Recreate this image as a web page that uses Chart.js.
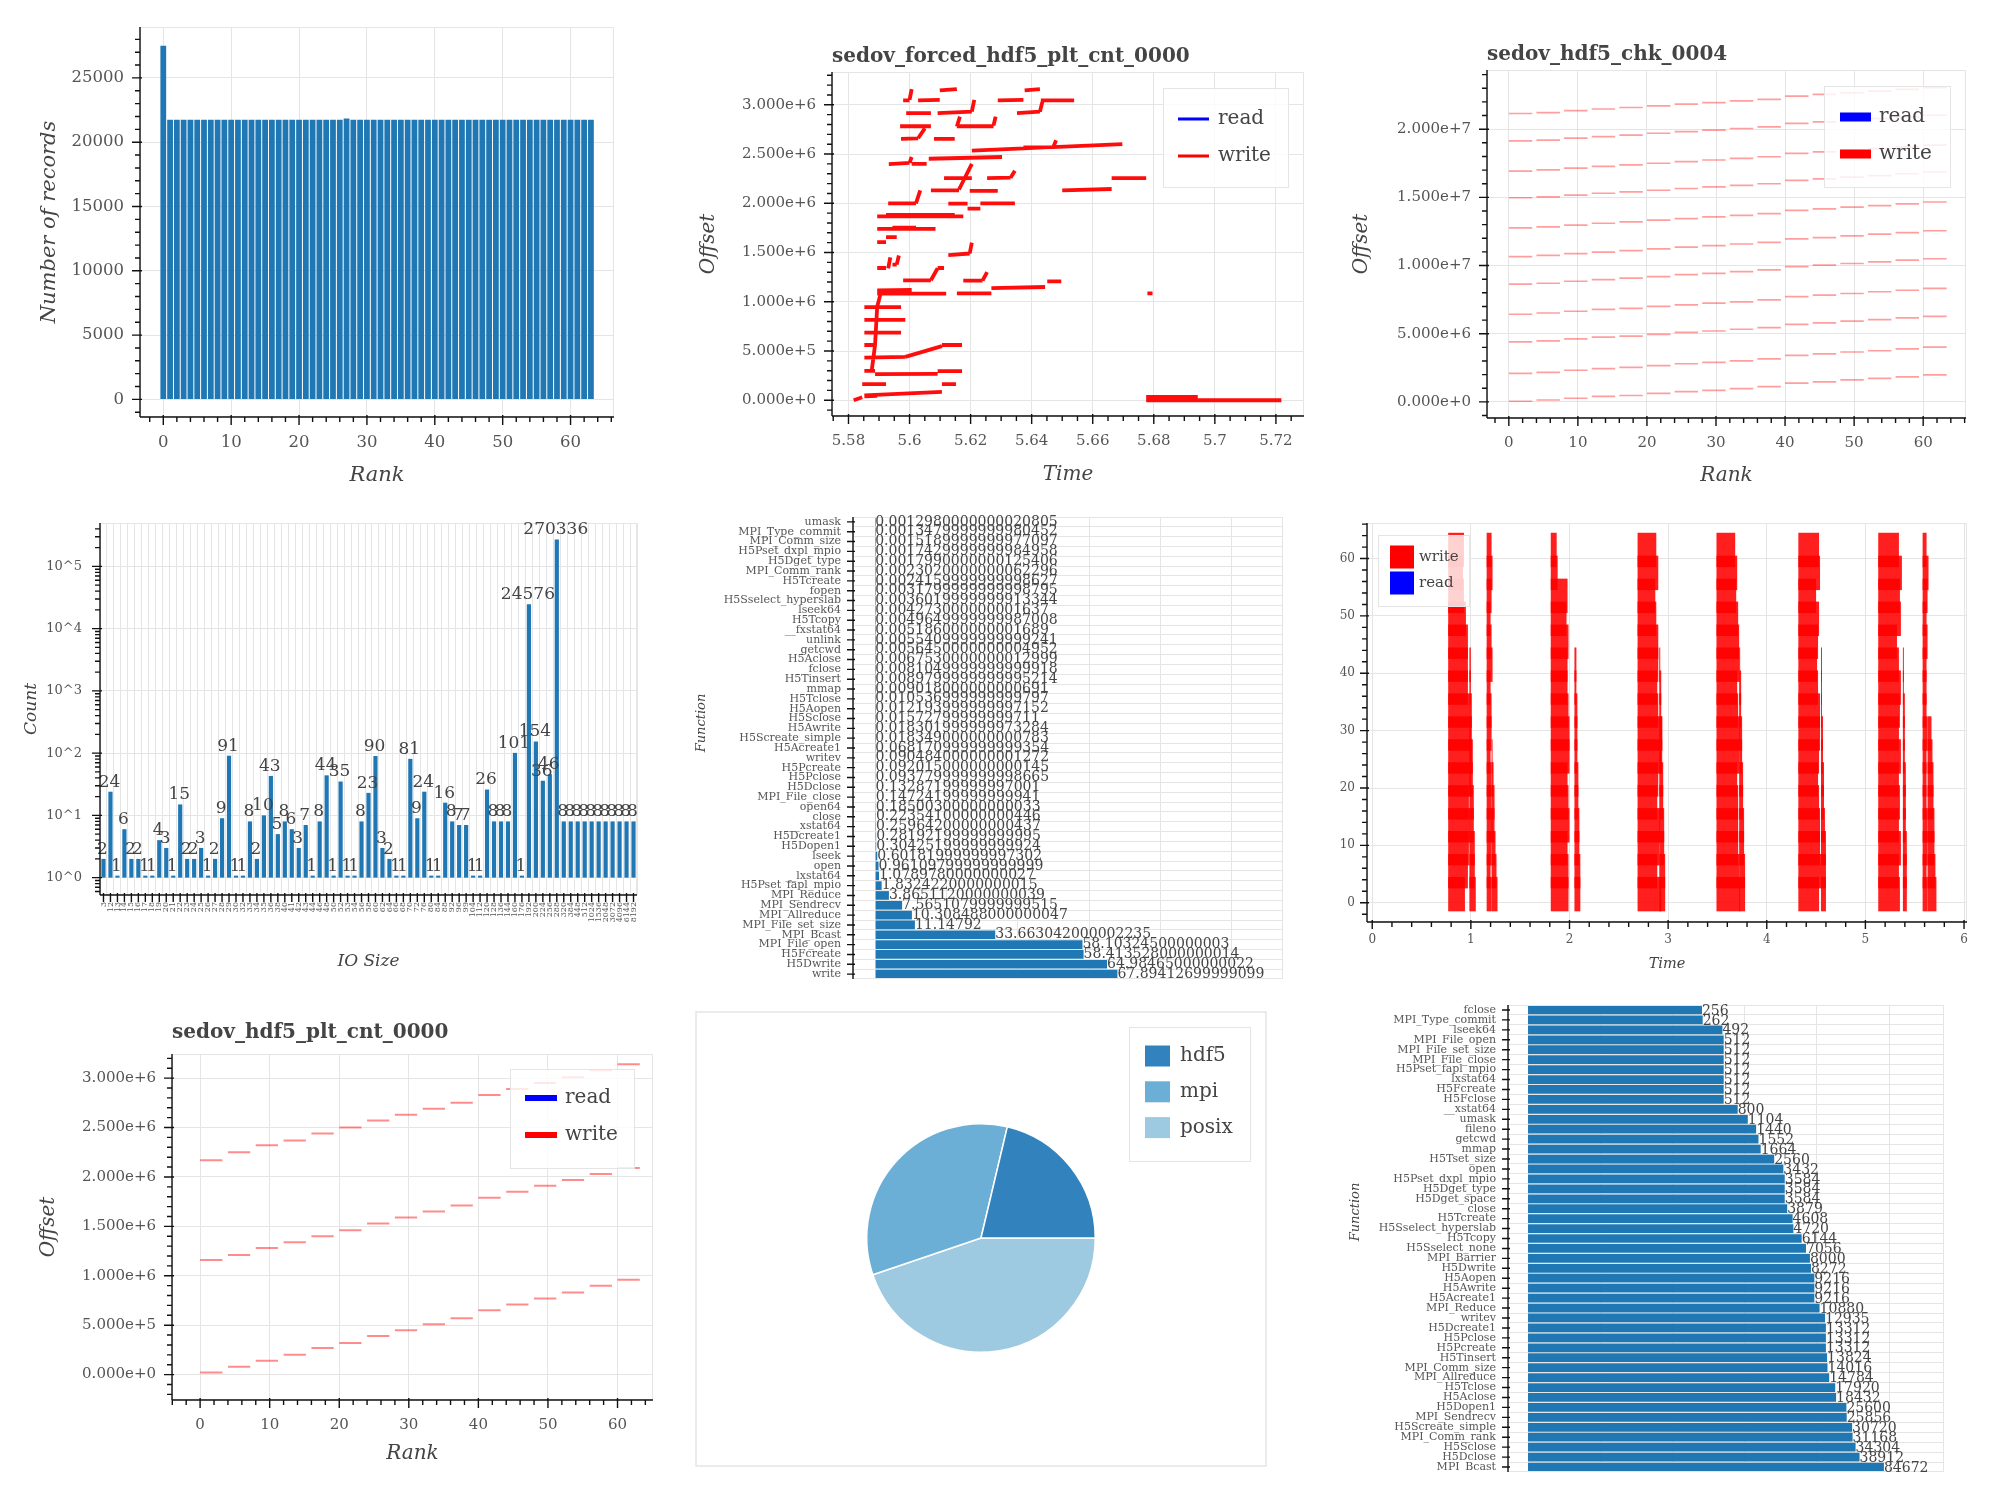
<!DOCTYPE html>
<html>
<head>
<meta charset="utf-8">
<script src="https://cdn.jsdelivr.net/npm/chart.js@4.4.0/dist/chart.umd.min.js"></script>
<style>
  body { margin: 0; background: #fff; width: 2000px; height: 1496px; position: relative; overflow: hidden; }
  canvas { position: absolute; }
</style>
</head>
<body>
<canvas id="c1" width="660" height="500" style="left:0px;top:0px"></canvas>
<canvas id="c2" width="680" height="500" style="left:660px;top:0px"></canvas>
<canvas id="c3" width="660" height="500" style="left:1340px;top:0px"></canvas>
<canvas id="c4" width="660" height="500" style="left:0px;top:500px"></canvas>
<canvas id="c5" width="640" height="479" style="left:680px;top:500px"></canvas>
<canvas id="c6" width="680" height="500" style="left:1320px;top:500px"></canvas>
<canvas id="c7" width="680" height="496" style="left:0px;top:1000px"></canvas>
<canvas id="c8" width="572" height="456" style="left:695px;top:1011px"></canvas>
<canvas id="c9" width="660" height="482" style="left:1340px;top:990px"></canvas>
<script>
// ---------- data ----------

// records per rank
const ranks = [0,1,2,3,4,5,6,7,8,9,10,11,12,13,14,15,16,17,18,19,20,21,22,23,24,25,26,27,28,29,30,31,
  32,33,34,35,36,37,38,39,40,41,42,43,44,45,46,47,48,49,50,51,52,53,54,55,56,57,58,59,60,61,62,63]
const recordsPerRank = [27500,21750,21750,21750,21750,21750,21750,21750,21750,21750,21750,21750,21750,21750,21750,21750,
  21750,21750,21750,21750,21750,21750,21750,21750,21750,21750,21750,21850,21750,21750,21750,21750,
  21750,21750,21750,21750,21750,21750,21750,21750,21750,21750,21750,21750,21750,21750,21750,21750,
  21750,21750,21750,21750,21750,21750,21750,21750,21750,21750,21750,21750,21750,21750,21750,21750]
const rankTicks = [0, 10, 20, 30, 40, 50, 60]
const recordTicks = [0, 5000, 10000, 15000, 20000, 25000]

// sedov_forced_hdf5_plt_cnt_0000 : write segments [t0, offset0, t1, offset1], offsets in millions
const seriesNames = ['read', 'write']
const forcedWrite = [
  [5.5817,0.00,5.5845,0.03],[5.5852,0.05,5.6106,0.085],[5.5852,0.04,5.5894,0.045],
  [5.5845,0.163,5.5923,0.163],[5.6106,0.163,5.6152,0.163],[5.5852,0.299,5.5887,0.299],
  [5.5887,0.265,5.6092,0.268],[5.6092,0.296,5.6172,0.296],[5.5852,0.432,5.5986,0.44],
  [5.5986,0.44,5.6106,0.55],[5.6106,0.561,5.6172,0.561],[5.5852,0.561,5.5887,0.561],
  [5.5852,0.687,5.5972,0.687],[5.5852,0.816,5.5986,0.816],[5.5852,0.945,5.5972,0.945],
  [5.5876,0.30,5.5887,0.56],[5.5887,0.56,5.5894,0.95],[5.5894,0.95,5.5905,1.08],
  [5.5894,1.082,5.6120,1.082],[5.5894,1.116,5.6007,1.12],[5.6155,1.085,5.6268,1.085],
  [5.6268,1.139,5.6444,1.15],[5.6451,1.207,5.6497,1.207],[5.5979,1.218,5.6070,1.218],
  [5.6070,1.218,5.6092,1.34],[5.6092,1.343,5.6113,1.343],[5.6176,1.214,5.6239,1.214],
  [5.6239,1.214,5.6254,1.30],[5.6779,1.085,5.6796,1.085],[5.5894,1.343,5.5923,1.343],
  [5.5944,1.377,5.5958,1.377],[5.5930,1.34,5.5937,1.45],[5.5958,1.377,5.5965,1.47],
  [5.6127,1.473,5.6197,1.49],[5.6197,1.49,5.6204,1.60],[5.5894,1.605,5.5923,1.605],
  [5.5923,1.656,5.5958,1.656],[5.5894,1.741,5.6085,1.741],[5.5944,1.752,5.6021,1.752],
  [5.5894,1.867,5.6176,1.867],[5.5923,1.881,5.6148,1.881],[5.5930,2.00,5.6021,2.00],
  [5.6021,2.00,5.6035,2.13],[5.6127,1.996,5.6190,1.996],[5.6190,1.945,5.6232,1.945],
  [5.6232,2.00,5.6345,2.00],[5.6070,2.132,5.6162,2.132],[5.6162,2.14,5.6204,2.40],
  [5.6113,2.255,5.6204,2.255],[5.6197,2.126,5.6289,2.126],[5.6254,2.255,5.6331,2.26],
  [5.6331,2.26,5.6345,2.33],[5.6500,2.132,5.6662,2.145],[5.6662,2.255,5.6775,2.255],
  [5.5932,2.398,5.6000,2.41],[5.6000,2.41,5.6007,2.47],[5.6007,2.40,5.6056,2.40],
  [5.6063,2.452,5.6303,2.47],[5.6204,2.534,5.6697,2.60],[5.6373,2.568,5.6472,2.57],
  [5.6472,2.58,5.6480,2.64],[5.5972,2.653,5.6028,2.66],[5.6028,2.66,5.6050,2.76],
  [5.6080,2.653,5.6148,2.653],[5.5969,2.782,5.6070,2.782],[5.6155,2.782,5.6275,2.782],
  [5.6275,2.79,5.6282,2.88],[5.5989,2.915,5.6070,2.915],[5.6092,2.915,5.6204,2.93],
  [5.6204,2.93,5.6212,3.05],[5.6155,2.78,5.6165,2.88],[5.5979,3.044,5.6000,3.044],
  [5.6000,3.05,5.6007,3.16],[5.6028,3.044,5.6099,3.05],[5.6099,3.146,5.6155,3.16],
  [5.6289,3.044,5.6373,3.05],[5.6377,3.146,5.6427,3.16],[5.6430,3.044,5.6539,3.044],
  [5.6352,2.915,5.6427,2.93],[5.6427,2.93,5.6435,3.03],[5.6775,0.00,5.6944,0.00],
  [5.6775,0.012,5.6944,0.012],[5.6775,0.024,5.6944,0.024],[5.6775,0.034,5.6944,0.034],
  [5.6944,0.00,5.7218,0.00]
]
const forcedTimeTicks = [5.58, 5.6, 5.62, 5.64, 5.66, 5.68, 5.7, 5.72]
const pltOffsetTicks = [0, 5e5, 1e6, 1.5e6, 2e6, 2.5e6, 3e6]

// sedov_hdf5_chk_0004 : write offsets (millions) per band, at these start ranks
const dashRanks = [0, 4, 8, 12, 16, 20, 24, 28, 32, 36, 40, 44, 48, 52, 56, 60]
const chkBands = [
  [0.05,0.14,0.27,0.41,0.47,0.62,0.75,0.84,0.98,1.12,1.38,1.47,1.61,1.72,1.84,1.98],
  [2.09,2.17,2.32,2.44,2.53,2.66,2.80,2.90,3.01,3.16,3.41,3.52,3.66,3.75,3.89,4.02],
  [4.40,4.47,4.62,4.75,4.83,4.95,5.10,5.20,5.33,5.45,5.68,5.80,5.93,6.03,6.16,6.27],
  [6.43,6.52,6.65,6.79,6.86,7.00,7.12,7.24,7.34,7.48,7.72,7.83,7.95,8.08,8.19,8.32],
  [8.64,8.70,8.85,8.97,9.08,9.19,9.33,9.43,9.56,9.68,9.92,10.03,10.15,10.27,10.40,10.50],
  [10.65,10.74,10.87,10.99,11.10,11.22,11.35,11.46,11.58,11.70,11.95,12.05,12.18,12.30,12.42,12.55],
  [12.76,12.83,12.97,13.10,13.20,13.33,13.44,13.57,13.68,13.81,14.04,14.16,14.28,14.40,14.52,14.66],
  [14.97,15.03,15.17,15.30,15.40,15.52,15.65,15.77,15.88,16.00,16.24,16.36,16.48,16.60,16.73,16.86],
  [16.93,17.02,17.15,17.27,17.38,17.50,17.62,17.74,17.86,17.98,18.22,18.33,18.46,18.58,18.70,18.83],
  [19.14,19.20,19.34,19.46,19.57,19.70,19.82,19.93,20.05,20.17,20.42,20.53,20.66,20.77,20.90,21.02],
  [21.15,21.22,21.36,21.48,21.59,21.71,21.84,21.95,22.07,22.19,22.43,22.55,22.67,22.79,22.92,23.05]
]
const chkOffsetTicks = [0, 5e6, 1e7, 1.5e7, 2e7]

// IO size histogram
const ioSizes = ['3','12','13','14','15','16','17','18','19','20','21','22','23','24','25','26','27','28','29',
  '30','32','33','34','35','36','38','40','41','42','43','44','46','48','50','52','53','54','56','58',
  '60','62','64','66','68','70','72','76','80','84','88','92','96','99',
  '104','112','120','128','136','144','160','176','192','200','224','256','288','320','384','448','512',
  '1024','1536','2048','3072','4096','6144','8192']
const ioCounts = [2,24,1,6,2,2,1,1,4,3,1,15,2,2,3,1,2,9,91,1,1,8,2,10,43,5,8,6,3,7,1,8,44,1,35,1,1,8,23,90,
  3,2,1,1,81,9,24,1,1,16,8,7,7,1,1,26,8,8,8,101,1,24576,154,36,46,270336,8,8,8,8,8,8,8,8,8,8,8]
const countTicks = [1, 10, 100, 1000, 10000, 100000]

// time per function
const timeFunctions = ['umask','MPI_Type_commit','MPI_Comm_size','H5Pset_dxpl_mpio','H5Dget_type','MPI_Comm_rank',
  'H5Tcreate','fopen','H5Sselect_hyperslab','lseek64','H5Tcopy','__fxstat64','unlink','getcwd','H5Aclose','fclose',
  'H5Tinsert','mmap','H5Tclose','H5Aopen','H5Sclose','H5Awrite','H5Screate_simple','H5Acreate1','writev','H5Pcreate',
  'H5Pclose','H5Dclose','MPI_File_close','open64','close','__xstat64','H5Dcreate1','H5Dopen1','lseek','open',
  '__lxstat64','H5Pset_fapl_mpio','MPI_Reduce','MPI_Sendrecv','MPI_Allreduce','MPI_File_set_size','MPI_Bcast',
  'MPI_File_open','H5Fcreate','H5Dwrite','write']
const timeValues = ['0.0012980000000020805','0.0013479999999980452','0.0015189999999977097','0.0017429999999984958',
  '0.0017990000000125406','0.0023020000000062296','0.0024159999999998627','0.0031799999999998795',
  '0.0036019999999913344','0.004273000000001637','0.0049649999999987008','0.005186000000001689',
  '0.0055409999999999241','0.0056450000000004952','0.0067530000000012999','0.0081049999999999918',
  '0.0089799999999995214','0.009018000000000691','0.010536999999999797','0.012193999999997152',
  '0.01572799999999711','0.018301999999973284','0.018349000000000783','0.068170999999999354',
  '0.090484000000001272','0.092015000000000145','0.093779999999998665','0.13287199999997001',
  '0.14724199999999941','0.18500300000000033','0.22354100000000446','0.25964200000000437',
  '0.28192199999999995','0.30425199999999924','0.60181999999997302','0.96109799999999999',
  '1.0789780000000027','1.8324220000000015','3.8651120000000039','7.5651079999999515',
  '10.308488000000047','11.14792','33.663042000002235','58.10324500000003','58.413528000000014',
  '64.98465000000022','67.89412699999099']
const timeGrid = [0, 20, 40, 60, 80, 100]

// timeline: rank groups, phase start times and per-group end times
const tlGroups = [1.5,5.5,9.5,13.5,17.5,21.5,25.5,29.5,33.5,37.5,41.5,45.5,49.5,53.5,57.5,61.5]
const tlStarts = [0.77,0.985,1.16,1.21,1.81,2.05,2.69,2.91,3.49,3.72,4.32,4.55,5.13,5.38,5.58,5.63]
const tlEnds = [
  [0.94,0.97,0.98,0.99,0.98,1.00,1.01,1.00,0.99,0.97,0.97,0.97,0.95,0.93,0.92,0.93],
  [1.05,1.04,1.04,1.03,1.03,1.02,1.02,1.01,1.01,1.00,1.00,null,null,null,null,null],
  [1.21,1.20,1.21,1.22,1.21,1.21,1.20,1.21,1.21,1.20,1.22,1.21,1.20,1.21,1.22,1.21],
  [1.27,1.26,1.25,1.24,1.24,1.23,1.22,null,null,null,null,null,null,null,null,null],
  [1.99,1.99,1.98,2.00,1.99,1.98,2.00,2.00,1.99,1.98,1.98,1.99,1.97,1.98,1.88,1.87],
  [2.11,2.11,2.10,2.10,2.09,2.09,2.08,2.08,2.08,2.07,2.07,null,null,null,null,null],
  [2.93,2.89,2.91,2.92,2.89,2.90,2.93,2.94,2.90,2.89,2.90,2.90,2.88,2.87,2.90,2.88],
  [2.97,2.97,2.96,2.96,2.95,2.95,2.94,2.94,2.93,2.93,2.92,null,null,null,null,null],
  [3.73,3.72,3.71,3.71,3.71,3.70,3.72,3.73,3.71,3.70,3.72,3.72,3.71,3.69,3.70,3.68],
  [3.78,3.78,3.77,3.77,3.76,3.76,3.75,3.75,3.74,3.74,3.73,null,null,null,null,null],
  [4.53,4.55,4.54,4.54,4.53,4.52,4.53,4.54,4.54,4.52,4.51,4.52,4.53,4.50,4.54,4.53],
  [4.60,4.60,4.60,4.59,4.58,4.58,4.57,4.57,4.56,4.56,4.56,null,null,null,null,null],
  [5.35,5.34,5.36,5.34,5.35,5.34,5.36,5.34,5.35,5.36,5.34,5.32,5.36,5.35,5.37,5.34],
  [5.42,5.42,5.42,5.41,5.41,5.41,5.40,5.40,5.40,5.39,5.39,null,null,null,null,null],
  [5.63,5.62,5.63,5.63,5.62,5.62,5.62,5.63,5.62,5.62,5.62,5.63,5.62,5.63,5.64,5.62],
  [5.72,5.71,5.70,5.70,5.69,5.69,5.68,5.67,null,null,null,null,null,null,null,null]
]
const tlTimeTicks = [0, 1, 2, 3, 4, 5, 6]
const tlRankTicks = [0, 10, 20, 30, 40, 50, 60]

// sedov_hdf5_plt_cnt_0000 : write offsets (millions) per band
const pltBands = [
  [0.02,0.08,0.14,0.20,0.27,0.32,0.39,0.45,0.51,0.57,0.65,0.71,0.77,0.83,0.90,0.96],
  [1.16,1.21,1.28,1.34,1.40,1.46,1.53,1.59,1.65,1.71,1.79,1.85,1.91,1.97,2.03,2.09],
  [2.17,2.25,2.32,2.37,2.44,2.50,2.57,2.63,2.69,2.75,2.83,2.89,2.95,3.01,3.08,3.14]
]

// module share
const pieLabels = ['hdf5', 'mpi', 'posix']
const pieValues = [21.3, 33.9, 44.8]

// calls per function
const countFunctions = ['fclose','MPI_Type_commit','lseek64','MPI_File_open','MPI_File_set_size','MPI_File_close',
  'H5Pset_fapl_mpio','__lxstat64','H5Fcreate','H5Fclose','__xstat64','umask','fileno','getcwd','mmap','H5Tset_size',
  'open','H5Pset_dxpl_mpio','H5Dget_type','H5Dget_space','close','H5Tcreate','H5Sselect_hyperslab','H5Tcopy',
  'H5Sselect_none','MPI_Barrier','H5Dwrite','H5Aopen','H5Awrite','H5Acreate1','MPI_Reduce','writev','H5Dcreate1',
  'H5Pclose','H5Pcreate','H5Tinsert','MPI_Comm_size','MPI_Allreduce','H5Tclose','H5Aclose','H5Dopen1',
  'MPI_Sendrecv','H5Screate_simple','MPI_Comm_rank','H5Sclose','H5Dclose','MPI_Bcast']
const countValues = [256,262,492,512,512,512,512,512,512,512,800,1104,1440,1552,1664,2560,3432,3584,3584,3584,
  3879,4608,4720,6144,7056,8000,8272,9216,9216,9216,10880,12935,13312,13312,13312,13824,14016,14784,17920,18432,
  25600,25856,30720,31168,34304,38912,84672]

// ---------- styling helpers ----------
const SERIF = "'DejaVu Serif', serif"
const BLUE = '#1f77b4'
const GRID = '#e5e5e5'
const TICK = '#555'
const LABEL = '#444'

function tickFont(size) { return { family: SERIF, size } }

function linScale(min, max, ticks, fmt, size, pad, show = true) {
  return {
    type: 'linear', min, max, offset: false,
    afterBuildTicks: s => { s.ticks = ticks.map(v => ({ value: v })) },
    grid: { color: GRID, lineWidth: 1, drawTicks: false, offset: false },
    border: { display: false },
    ticks: { display: show, callback: fmt, font: tickFont(size), color: TICK, padding: pad, autoSkip: false, maxRotation: 0, minRotation: 0 }
  }
}

function logScale(min, max, ticks, fmt, size, pad, show = true) {
  const s = linScale(min, max, ticks, fmt, size, pad, show)
  s.type = 'logarithmic'
  return s
}

function catScale(size, pad, rot = 0, grid = true) {
  return {
    type: 'category', offset: true,
    grid: { display: grid, color: GRID, drawTicks: false, offset: true },
    border: { display: false },
    ticks: { font: tickFont(size), color: TICK, padding: pad, autoSkip: false, minRotation: rot, maxRotation: rot }
  }
}

function baseOpts(m, scales, extra) {
  scales.x.afterFit = s => { s.height = m.MB; s.paddingLeft = 0; s.paddingRight = 0 }
  scales.y.afterFit = s => { s.width = m.ML; s.paddingTop = 0; s.paddingBottom = 0 }
  return Object.assign({
    responsive: false, animation: false, devicePixelRatio: 1,
    layout: { padding: { left: 0, top: m.MT, right: m.MR, bottom: 0 } },
    plugins: { legend: { display: false }, tooltip: { enabled: false } },
    scales
  }, extra || {})
}

// axis lines, major / minor tick marks, titles, labels, legends, value labels
function drawAxis(ctx, s, a, ax) {
  const horiz = s.isHorizontal()
  ctx.strokeStyle = '#111'
  ctx.lineWidth = 1.4
  ctx.beginPath()
  if (horiz) { ctx.moveTo(a.left, a.bottom); ctx.lineTo(a.right, a.bottom) }
  else { ctx.moveTo(a.left, a.top); ctx.lineTo(a.left, a.bottom) }
  ctx.stroke()
  const mark = (p, inn, out) => {
    if (horiz) { ctx.moveTo(p, a.bottom - inn); ctx.lineTo(p, a.bottom + out) }
    else { ctx.moveTo(a.left + inn, p); ctx.lineTo(a.left - out, p) }
  }
  ctx.beginPath()
  s.ticks.forEach((t, i) => mark(s.getPixelForTick(i), 2, ax.major || 8))
  const minors = []
  if (ax.minor) {
    const k0 = Math.ceil(s.min / ax.minor - 1e-9), k1 = Math.floor(s.max / ax.minor + 1e-9)
    for (let k = k0; k <= k1; k++) minors.push(k * ax.minor)
  }
  if (ax.logMinor) {
    for (let d = Math.floor(Math.log10(s.min)); d <= Math.ceil(Math.log10(s.max)); d++)
      for (let m = 2; m < 10; m++) { const v = m * Math.pow(10, d); if (v >= s.min && v <= s.max) minors.push(v) }
  }
  minors.forEach(v => mark(s.getPixelForValue(v), 0, 5))
  ctx.stroke()
}

function drawLegend(ctx, L) {
  const [x0, y0, x1, y1] = L.box
  ctx.fillStyle = 'rgba(255,255,255,0.8)'
  ctx.fillRect(x0, y0, x1 - x0, y1 - y0)
  ctx.strokeStyle = GRID
  ctx.lineWidth = 1
  ctx.strokeRect(x0 + 0.5, y0 + 0.5, x1 - x0, y1 - y0)
  L.items.forEach(it => {
    if (L.kind === 'line') {
      ctx.strokeStyle = it.color; ctx.lineWidth = L.lw
      ctx.beginPath(); ctx.moveTo(L.gx0, it.y); ctx.lineTo(L.gx1, it.y); ctx.stroke()
    } else {
      ctx.fillStyle = it.color
      ctx.fillRect(L.gx0, it.y - L.h / 2, L.gx1 - L.gx0, L.h)
    }
    ctx.fillStyle = LABEL
    ctx.font = `${L.size}px ${SERIF}`
    ctx.textAlign = 'left'; ctx.textBaseline = 'middle'
    ctx.fillText(it.text, L.tx, it.y)
  })
}

function drawBk(chart, c) {
  const ctx = chart.ctx, a = chart.chartArea
  ctx.save()
  if (c.outline) { ctx.strokeStyle = GRID; ctx.lineWidth = 1.5; ctx.strokeRect(1, 1, chart.width - 2, chart.height - 2) }
  if (c.frame) { ctx.strokeStyle = GRID; ctx.lineWidth = 1; ctx.strokeRect(a.left + 0.5, a.top + 0.5, a.right - a.left - 1, a.bottom - a.top - 1) }
  if (c.values) {
    const v = c.values
    ctx.font = `${v.size}px ${SERIF}`
    ctx.fillStyle = LABEL
    chart.getDatasetMeta(0).data.forEach((el, i) => {
      if (v.horizontal) { ctx.textAlign = 'left'; ctx.textBaseline = 'middle'; ctx.fillText(v.texts[i], el.x + v.dx, el.y + v.dy) }
      else { ctx.textAlign = 'center'; ctx.textBaseline = 'bottom'; ctx.fillText(v.texts[i], el.x + v.dx, el.y + v.dy) }
    })
  }
  ;['x', 'y'].forEach(k => { if (c[k]) drawAxis(ctx, chart.scales[k], a, c[k]) })
  ctx.fillStyle = LABEL
  if (c.title) {
    ctx.font = `bold ${c.title.size}px ${SERIF}`
    ctx.textAlign = 'left'; ctx.textBaseline = 'middle'
    ctx.fillText(c.title.text, a.left, a.top + c.title.dy)
  }
  if (c.xLabel) {
    ctx.font = `italic ${c.xLabel.size}px ${SERIF}`
    ctx.textAlign = 'center'; ctx.textBaseline = 'middle'
    ctx.fillText(c.xLabel.text, (a.left + a.right) / 2, a.bottom + c.xLabel.dy)
  }
  if (c.yLabel) {
    ctx.save()
    ctx.font = `italic ${c.yLabel.size}px ${SERIF}`
    ctx.textAlign = 'center'; ctx.textBaseline = 'middle'
    ctx.translate(a.left + c.yLabel.dx, c.yLabel.cy != null ? c.yLabel.cy : (a.top + a.bottom) / 2)
    ctx.rotate(-Math.PI / 2)
    ctx.fillText(c.yLabel.text, 0, 0)
    ctx.restore()
  }
  if (c.legend) drawLegend(ctx, c.legend)
  ctx.restore()
}

function bk(conf) { return { id: 'bk', afterDraw(chart) { drawBk(chart, conf) } } }

function segmentPoints(segs) {
  const pts = []
  segs.forEach(([t0, y0, t1, y1]) => {
    pts.push({ x: t0, y: y0 * 1e6 }, { x: t1, y: y1 * 1e6 }, { x: t1, y: null })
  })
  return pts
}

function dashPoints(bands, starts, len) {
  const pts = []
  bands.forEach(b => b.forEach((v, i) => {
    pts.push({ x: starts[i], y: v * 1e6 }, { x: starts[i] + len, y: v * 1e6 }, { x: starts[i] + len, y: null })
  }))
  return pts
}

const fmtInt = v => String(v)
const fmtExp = v => Number(v).toExponential(3)
const fmtTime = v => String(+Number(v).toFixed(2))
const fmtPow = v => '10^' + Math.round(Math.log10(v))

// ---------- 1: records per rank ----------
new Chart(document.getElementById('c1'), {
  type: 'bar',
  data: { datasets: [{ data: ranks.map((r, i) => ({ x: r, y: recordsPerRank[i] })), backgroundColor: BLUE, categoryPercentage: 1, barPercentage: 0.85 }] },
  options: baseOpts({ ML: 140, MT: 27, MR: 46, MB: 83 }, {
    x: linScale(-3.43, 66.4, rankTicks, fmtInt, 16.5, 16),
    y: linScale(-1370, 28960, recordTicks, fmtInt, 16.5, 16)
  }),
  plugins: [bk({ frame: true, x: { minor: 2 }, y: { minor: 1000 },
    xLabel: { text: 'Rank', dy: 59, size: 21 }, yLabel: { text: 'Number of records', dx: -90, size: 21 } })]
})

// ---------- 2: sedov_forced_hdf5_plt_cnt_0000 ----------
new Chart(document.getElementById('c2'), {
  type: 'scatter',
  data: { datasets: [
    { label: seriesNames[0], data: [], borderColor: '#0000ff', showLine: true, pointRadius: 0 },
    { label: seriesNames[1], data: segmentPoints(forcedWrite), borderColor: 'rgba(255,0,0,0.95)', borderWidth: 3.8, showLine: true, pointRadius: 0, spanGaps: false, borderCapStyle: 'butt' }
  ] },
  options: baseOpts({ ML: 172, MT: 72, MR: 36, MB: 84 }, {
    x: linScale(5.5746, 5.7292, forcedTimeTicks, fmtTime, 15, 16),
    y: linScale(-0.16e6, 3.333e6, pltOffsetTicks, fmtExp, 15, 16)
  }),
  plugins: [bk({ frame: true, x: { minor: 0.005 }, y: { minor: 1e5 },
    title: { text: 'sedov_forced_hdf5_plt_cnt_0000', dy: -15, size: 20 },
    xLabel: { text: 'Time', dy: 58.5, size: 20 }, yLabel: { text: 'Offset', dx: -123, size: 20 },
    legend: { box: [503, 88, 628, 187], kind: 'line', lw: 3, gx0: 518, gx1: 549, tx: 558, size: 20,
      items: [{ text: seriesNames[0], color: '#0000ff', y: 119 }, { text: seriesNames[1], color: '#ff0000', y: 156 }] } })]
})

// ---------- 3: sedov_hdf5_chk_0004 ----------
new Chart(document.getElementById('c3'), {
  type: 'scatter',
  data: { datasets: [
    { label: seriesNames[0], data: [], borderColor: '#0000ff', showLine: true, pointRadius: 0 },
    { label: seriesNames[1], data: dashPoints(chkBands, dashRanks, 3.4), borderColor: 'rgba(255,0,0,0.38)', borderWidth: 1.7, showLine: true, pointRadius: 0, spanGaps: false }
  ] },
  options: baseOpts({ ML: 147, MT: 70, MR: 34, MB: 82 }, {
    x: linScale(-3.16, 66.2, rankTicks, fmtInt, 15, 16),
    y: linScale(-1.18e6, 24.34e6, chkOffsetTicks, fmtExp, 15, 16)
  }),
  plugins: [bk({ frame: true, x: { minor: 2 }, y: { minor: 1e6 },
    title: { text: 'sedov_hdf5_chk_0004', dy: -15, size: 20 },
    xLabel: { text: 'Rank', dy: 58, size: 20 }, yLabel: { text: 'Offset', dx: -125, size: 20 },
    legend: { box: [484, 86, 610, 187], kind: 'rect', h: 9, gx0: 500, gx1: 531, tx: 539, size: 20,
      items: [{ text: seriesNames[0], color: '#0000ff', y: 117 }, { text: seriesNames[1], color: '#ff0000', y: 154 }] } })]
})

// ---------- 4: IO size histogram ----------
new Chart(document.getElementById('c4'), {
  type: 'bar',
  data: { labels: ioSizes, datasets: [{ data: ioCounts.map(v => [1, v]), backgroundColor: BLUE, categoryPercentage: 1, barPercentage: 0.6, minBarLength: 2 }] },
  options: baseOpts({ ML: 100, MT: 23, MR: 23, MB: 105 }, {
    x: catScale(8, 7, 90),
    y: logScale(0.526, 497700, countTicks, fmtPow, 13, 18)
  }),
  plugins: [bk({ frame: true, x: { major: 7 }, y: { logMinor: true },
    values: { texts: ioCounts.map(String), size: 17, dx: -1, dy: -1 },
    xLabel: { text: 'IO Size', dy: 67, size: 17 }, yLabel: { text: 'Count', dx: -68, size: 17 } })]
})

// ---------- 5: time per function ----------
new Chart(document.getElementById('c5'), {
  type: 'bar',
  data: { labels: timeFunctions, datasets: [{ data: timeValues.map(Number), backgroundColor: BLUE, categoryPercentage: 1, barPercentage: 0.88 }] },
  options: baseOpts({ ML: 173, MT: 17, MR: 37, MB: 0 }, {
    x: linScale(-6.2, 114.3, timeGrid, fmtInt, 11, 10, false),
    y: catScale(11, 12)
  }, { indexAxis: 'y' }),
  plugins: [bk({ frame: true, y: { major: 6 },
    values: { texts: timeValues, size: 14, horizontal: true, dx: 0, dy: 0 },
    yLabel: { text: 'Function', dx: -151.5, cy: 223, size: 13 } })]
})

// ---------- 6: timeline ----------
const tlWrite = []
tlStarts.forEach((t0, p) => tlEnds[p].forEach((t1, g) => { if (t1 != null) tlWrite.push({ y: tlGroups[g], x: [t0, t1] }) }))
new Chart(document.getElementById('c6'), {
  type: 'bar',
  data: { datasets: [
    { label: seriesNames[1], data: tlWrite, backgroundColor: 'rgba(255,0,0,0.88)', grouped: false, categoryPercentage: 1, barPercentage: 1.5 },
    { label: seriesNames[0], data: [], backgroundColor: '#0000ff', grouped: false }
  ] },
  options: baseOpts({ ML: 47, MT: 23, MR: 33, MB: 78 }, {
    x: linScale(-0.053, 6.03, tlTimeTicks, fmtInt, 12, 11),
    y: linScale(-3.36, 66.2, tlRankTicks, fmtInt, 12, 12)
  }, { indexAxis: 'y' }),
  plugins: [bk({ frame: true, x: { minor: 0.2, major: 7 }, y: { minor: 2, major: 7 },
    xLabel: { text: 'Time', dy: 42, size: 14.5 },
    legend: { box: [58, 35, 149, 106], kind: 'rect', h: 23, gx0: 70, gx1: 94, tx: 99, size: 15,
      items: [{ text: seriesNames[1], color: '#ff0000', y: 57 }, { text: seriesNames[0], color: '#0000ff', y: 83 }] } })]
})

// ---------- 7: sedov_hdf5_plt_cnt_0000 ----------
new Chart(document.getElementById('c7'), {
  type: 'scatter',
  data: { datasets: [
    { label: seriesNames[0], data: [], borderColor: '#0000ff', showLine: true, pointRadius: 0 },
    { label: seriesNames[1], data: dashPoints(pltBands, dashRanks, 3.2), borderColor: 'rgba(255,0,0,0.45)', borderWidth: 2, showLine: true, pointRadius: 0, spanGaps: false }
  ] },
  options: baseOpts({ ML: 172, MT: 54, MR: 27, MB: 96 }, {
    x: linScale(-4.04, 65.1, rankTicks, fmtInt, 15, 16),
    y: linScale(-0.257e6, 3.244e6, pltOffsetTicks, fmtExp, 15, 16)
  }),
  plugins: [bk({ frame: true, x: { minor: 2 }, y: { minor: 1e5 },
    title: { text: 'sedov_hdf5_plt_cnt_0000', dy: -21, size: 20 },
    xLabel: { text: 'Rank', dy: 54, size: 20 }, yLabel: { text: 'Offset', dx: -123.5, size: 20 },
    legend: { box: [510, 69, 634, 168], kind: 'line', lw: 6, gx0: 525, gx1: 557, tx: 565, size: 20,
      items: [{ text: seriesNames[0], color: '#0000ff', y: 98 }, { text: seriesNames[1], color: '#ff0000', y: 135 }] } })]
})

// ---------- 8: module pie ----------
const pieColors = ['#3182bd', '#6baed6', '#9ecae1']
new Chart(document.getElementById('c8'), {
  type: 'pie',
  data: { labels: pieLabels.slice().reverse(), datasets: [{ data: pieValues.slice().reverse(), backgroundColor: pieColors.slice().reverse(), borderColor: '#fff', borderWidth: 1.5 }] },
  options: {
    responsive: false, animation: false, devicePixelRatio: 1, rotation: 90,
    layout: { padding: { left: 171, right: 171, top: 112, bottom: 114 } },
    plugins: { legend: { display: false }, tooltip: { enabled: false } }
  },
  plugins: [bk({ outline: true,
    legend: { box: [434, 16, 555, 150], kind: 'rect', h: 21, gx0: 450, gx1: 475, tx: 485, size: 20,
      items: pieLabels.map((t, i) => ({ text: t, color: pieColors[i], y: 45 + i * 35.8 })) } })]
})

// ---------- 9: calls per function ----------
new Chart(document.getElementById('c9'), {
  type: 'bar',
  data: { labels: countFunctions, datasets: [{ data: countValues.map(v => [1, v]), backgroundColor: BLUE, categoryPercentage: 1, barPercentage: 0.88 }] },
  options: baseOpts({ ML: 168, MT: 15, MR: 56, MB: 0 }, {
    x: logScale(0.528, 575000, countTicks, fmtPow, 11, 10, false),
    y: catScale(11, 12)
  }, { indexAxis: 'y' }),
  plugins: [bk({ frame: true, y: { major: 6 },
    values: { texts: countValues.map(String), size: 14, horizontal: true, dx: 0, dy: 1 },
    yLabel: { text: 'Function', dx: -152, cy: 222, size: 13 } })]
})
</script>
</body>
</html>
